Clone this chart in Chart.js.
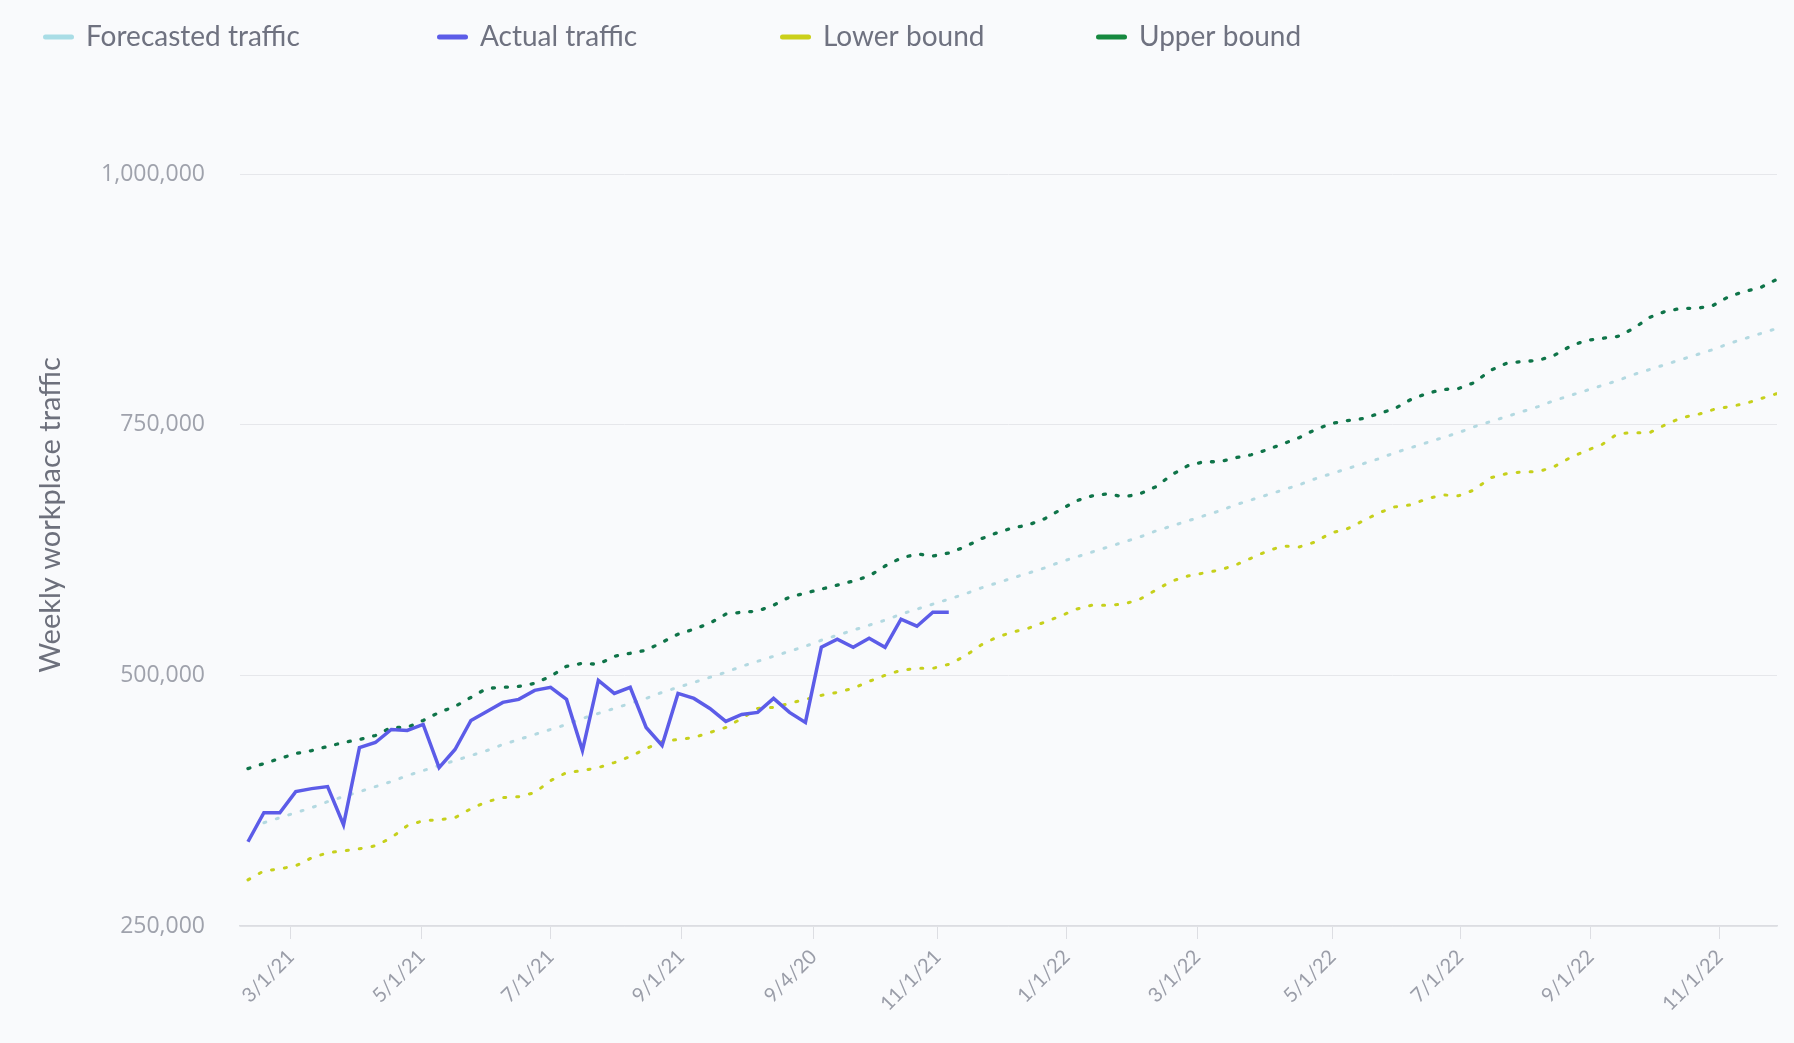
<!DOCTYPE html>
<html lang="en">
<head>
<meta charset="UTF-8">
<title>Weekly workplace traffic forecast</title>
<script src="https://cdn.jsdelivr.net/npm/chart.js@4.4.1/dist/chart.umd.min.js"></script>
<style>
  html, body { margin: 0; padding: 0; background: #f9fafc; }
  #wrap { position: relative; width: 1794px; height: 1043px; }
</style>
</head>
<body>
<div id="wrap"><canvas id="trafficChart"></canvas></div>
<script>
// x axis labels and where they sit (in weeks from the first data point)
const tickLabels = ['3/1/21', '5/1/21', '7/1/21', '9/1/21', '9/4/20', '11/1/21',
                    '1/1/22', '3/1/22', '5/1/22', '7/1/22', '9/1/22', '11/1/22'];
const tickWeeks = [2.7, 10.9, 19.0, 27.2, 35.5, 43.3, 51.4, 59.6, 68.1, 76.1, 84.3, 92.4];

// weekly series
const forecast = [
  null, 353000, 358000, 363000, 368000, 374000, 379000, 384000, 389000, 394000,
  400000, 405000, 410000, 415000, 420000, 425000, 431000, 436000, 441000, 446000,
  451000, 457000, 462000, 467000, 472000, 477000, 483000, 488000, 493000, 498000,
  503000, 509000, 514000, 519000, 524000, 529000, 535000, 540000, 545000, 550000,
  555000, 561000, 566000, 571000, 576000, 581000, 587000, 592000, 597000, 602000,
  607000, 613000, 618000, 623000, 628000, 633000, 638000, 644000, 649000, 654000,
  659000, 664000, 670000, 675000, 680000, 685000, 690000, 696000, 701000, 706000,
  711000, 716000, 722000, 727000, 732000, 737000, 742000, 748000, 753000, 758000,
  763000, 768000, 774000, 779000, 784000, 789000, 794000, 800000, 805000, 810000,
  815000, 820000, 825000, 831000, 836000, 841000, 846000
];

const actual = [
  334000, 363000, 363000, 384000, 387000, 389000, 351000, 428000, 433000, 446000,
  445000, 451000, 408000, 426000, 455000, 464000, 473000, 476000, 485000, 488000,
  476000, 425000, 495000, 482000, 488000, 448000, 430000, 482000, 477000, 467000,
  454000, 461000, 463000, 477000, 463000, 453000, 528000, 536000, 528000, 537000,
  528000, 556000, 549000, 563000, 563000
];

const lowerBound = [
  296000, 305000, 307000, 310000, 318000, 323000, 325000, 327000, 330000, 338000,
  350000, 355000, 356000, 358000, 367000, 374000, 378000, 379000, 383000, 395000,
  403000, 405000, 408000, 413000, 419000, 427000, 434000, 436000, 438000, 443000,
  448000, 457000, 467000, 468000, 472000, 476000, 480000, 483000, 487000, 494000,
  500000, 505000, 507000, 507000, 511000, 519000, 530000, 538000, 543000, 547000,
  553000, 559000, 566000, 570000, 570000, 571000, 576000, 585000, 594000, 599000,
  602000, 605000, 610000, 617000, 624000, 629000, 628000, 633000, 642000, 646000,
  654000, 662000, 668000, 670000, 676000, 680000, 679000, 685000, 697000, 701000,
  703000, 703000, 708000, 717000, 724000, 730000, 741000, 742000, 742000, 750000,
  757000, 760000, 765000, 768000, 771000, 776000, 781000
];

const upperBound = [
  407000, 412000, 417000, 422000, 425000, 429000, 433000, 436000, 440000, 448000,
  448000, 455000, 463000, 469000, 478000, 487000, 488000, 489000, 492000, 499000,
  509000, 512000, 511000, 519000, 522000, 525000, 533000, 541000, 546000, 552000,
  561000, 563000, 564000, 570000, 578000, 582000, 586000, 590000, 594000, 599000,
  609000, 617000, 621000, 619000, 622000, 628000, 636000, 642000, 647000, 650000,
  656000, 665000, 674000, 679000, 681000, 678000, 681000, 688000, 700000, 709000,
  713000, 713000, 717000, 720000, 725000, 731000, 737000, 745000, 751000, 754000,
  756000, 761000, 766000, 775000, 781000, 785000, 786000, 792000, 804000, 811000,
  813000, 814000, 819000, 828000, 834000, 836000, 838000, 846000, 857000, 863000,
  866000, 866000, 869000, 878000, 883000, 887000, 895000
];

const yTitle = 'Weekly workplace traffic';

const toPoints = arr => arr.map((v, i) => ({ x: i, y: v })).filter(p => p.y !== null);

const FONT = 'Lato, "Open Sans", sans-serif';
const legendX = [43, 437, 780, 1096];

// legend + y title drawn by hand so they sit where the original has them
const chartText = {
  id: 'chartText',
  afterDraw(chart) {
    const ctx = chart.ctx;
    ctx.save();
    ctx.font = '28px ' + FONT;
    ctx.textBaseline = 'middle';
    chart.data.datasets.forEach((ds, i) => {
      const x = legendX[i], y = 37;
      ctx.fillStyle = ds.legendColor;
      ctx.beginPath();
      ctx.roundRect(x, y - 2.5, 31, 5, 2.5);
      ctx.fill();
      ctx.fillStyle = '#6f7280';
      ctx.fillText(ds.label, x + 43, y);
    });

    ctx.translate(51, 515);
    ctx.rotate(-Math.PI / 2);
    ctx.textAlign = 'center';
    ctx.font = '29px ' + FONT;
    ctx.fillStyle = '#6d707c';
    ctx.fillText(yTitle, 0, 0);
    ctx.restore();
  }
};

const dotted = { borderWidth: 3, borderDash: [2, 11], borderCapStyle: 'round' };

new Chart(document.getElementById('trafficChart'), {
  type: 'line',
  data: {
    datasets: [
      { label: 'Forecasted traffic', data: toPoints(forecast), borderColor: '#b3d9e1',
        legendColor: '#a9dde6', order: 1, ...dotted },
      { label: 'Actual traffic', data: toPoints(actual), borderColor: '#5c5ce8',
        legendColor: '#5c5ce8', borderWidth: 3.5, order: 0 },
      { label: 'Lower bound', data: toPoints(lowerBound), borderColor: '#c6d01c',
        legendColor: '#cbd01a', order: 1, ...dotted },
      { label: 'Upper bound', data: toPoints(upperBound), borderColor: '#0f7449',
        legendColor: '#16893f', order: 1, ...dotted, borderWidth: 3.3 }
    ]
  },
  options: {
    responsive: true,
    maintainAspectRatio: false,
    animation: false,
    layout: { padding: { top: 174, left: 30, right: 17, bottom: 7 } },
    elements: { point: { radius: 0 }, line: { tension: 0 } },
    plugins: { legend: { display: false }, tooltip: { enabled: false } },
    scales: {
      x: {
        type: 'linear',
        min: -0.5,
        max: 96,
        afterBuildTicks: s => { s.ticks = tickWeeks.map(v => ({ value: v })); },
        afterFit: s => { s.height = 110; },
        ticks: {
          autoSkip: false,
          maxRotation: 45,
          minRotation: 45,
          padding: 6,
          color: '#9a9da8',
          font: { family: FONT, size: 20 },
          callback: (v, i) => tickLabels[i]
        },
        grid: { drawOnChartArea: false, drawTicks: true, tickLength: 13, color: '#dddee3' },
        border: { display: true, color: '#dcdde2', width: 1.5 }
      },
      y: {
        min: 250000,
        max: 1000000,
        afterFit: s => { s.width = 210; },
        ticks: {
          stepSize: 250000,
          padding: 35,
          color: '#9fa2ac',
          font: { family: '"Open Sans", Lato, sans-serif', size: 23 },
          callback: v => v.toLocaleString('en-US')
        },
        grid: { color: '#e6e7eb', drawTicks: false },
        border: { display: false }
      }
    }
  },
  plugins: [chartText]
});
</script>
</body>
</html>
